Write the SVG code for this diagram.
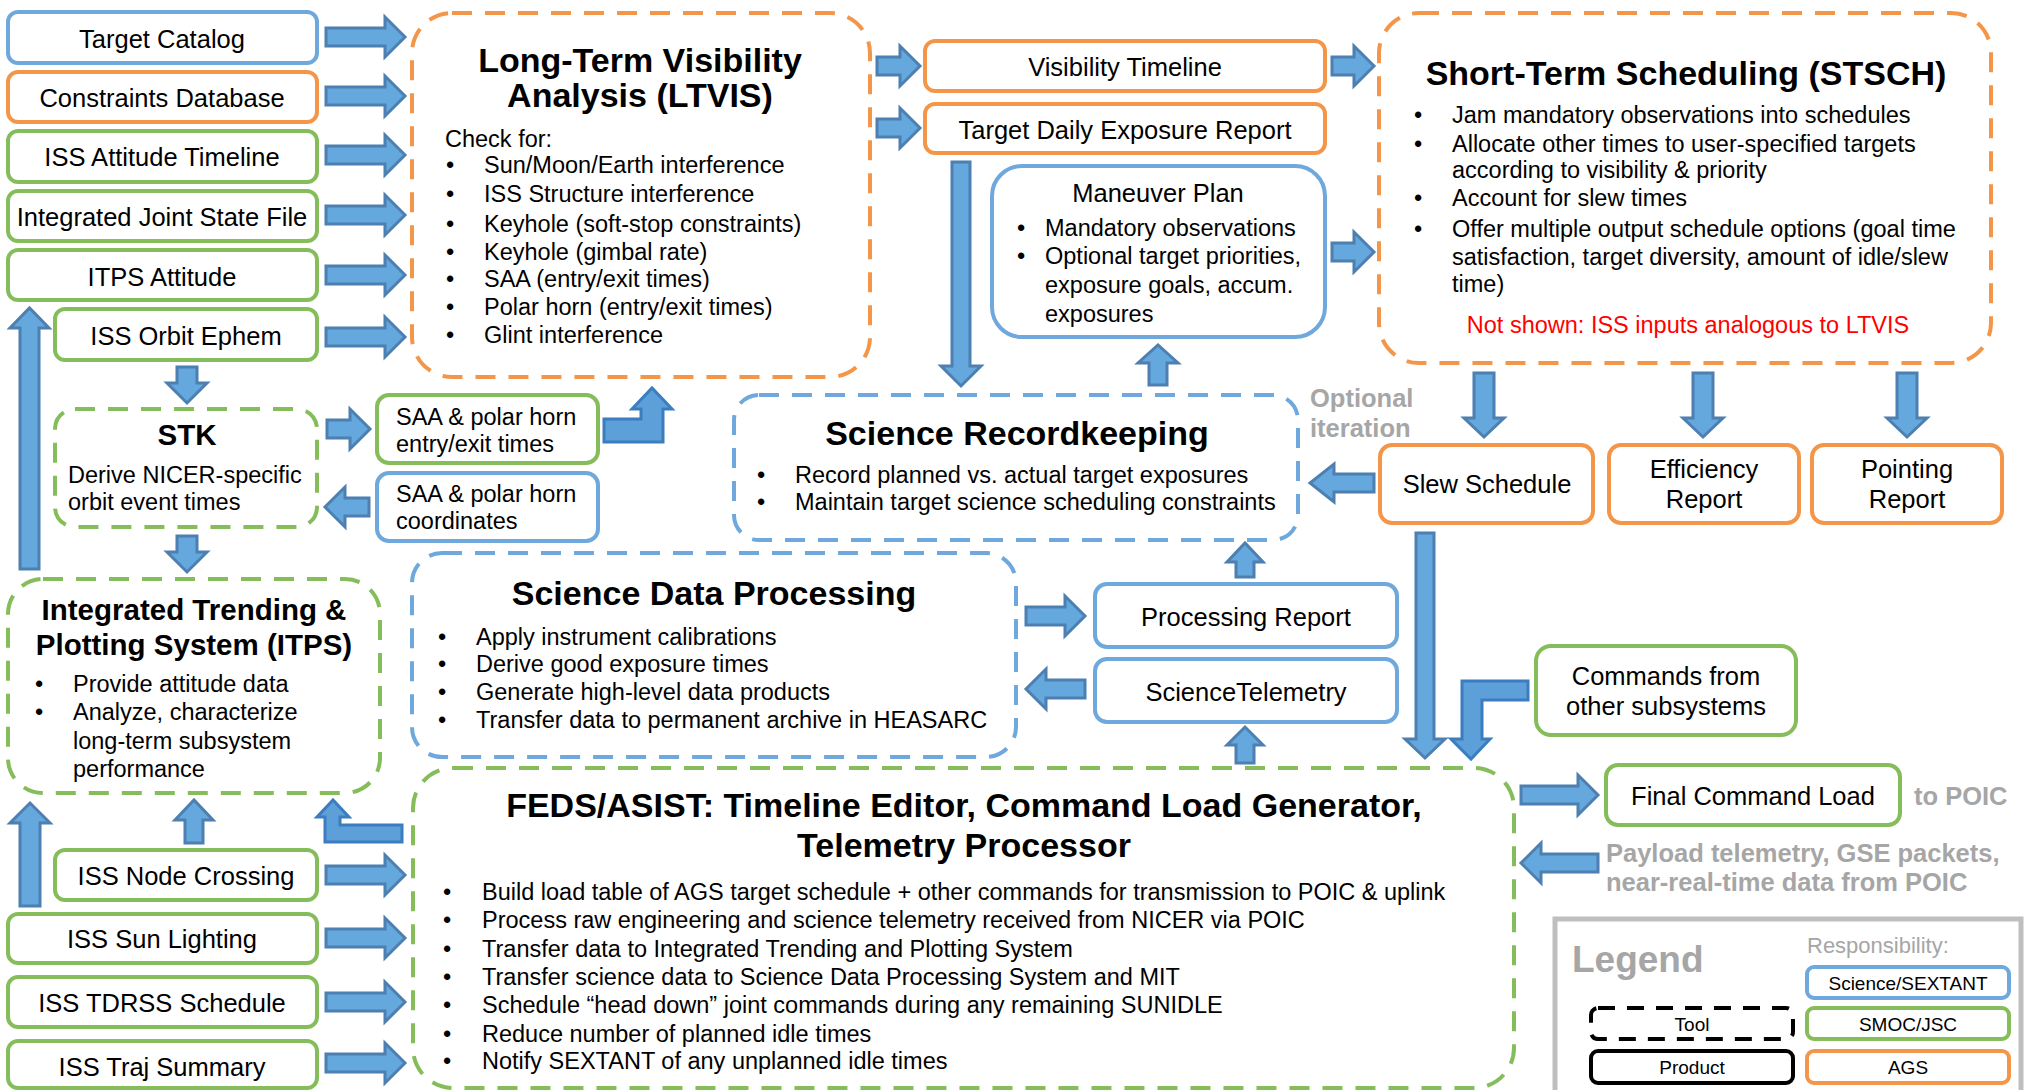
<svg xmlns="http://www.w3.org/2000/svg" width="2028" height="1090" viewBox="0 0 2028 1090">
<style>
text{font-family:"Liberation Sans",Arial,Helvetica,sans-serif;fill:#000}
.lbl{font-size:25.5px;text-anchor:middle}
.s23{font-size:23.5px}
.ttl{font-size:34px;font-weight:bold;text-anchor:middle}
.ttl29{font-size:29.5px;font-weight:bold;text-anchor:middle}
.gray{fill:#a6a6a6;font-weight:bold;font-size:25.5px}
.red{fill:#ff0000;font-size:23.5px;text-anchor:middle}
.lg{font-size:19px;text-anchor:middle}
.pb{fill:#fff;stroke:#6ea8dc;stroke-width:4}
.po{fill:#fff;stroke:#f4964a;stroke-width:4}
.pg{fill:#fff;stroke:#85bd5b;stroke-width:4}
.tb{fill:none;stroke:#6ea8dc;stroke-width:4;stroke-dasharray:20 13}
.to{fill:none;stroke:#f4964a;stroke-width:4;stroke-dasharray:20 13}
.tg{fill:none;stroke:#85bd5b;stroke-width:4;stroke-dasharray:20 13}
.arr{fill:#65a8de;stroke:#4d7fb0;stroke-width:3}
.elb{fill:#5d9fd8;stroke:#3c7dc0;stroke-width:3}
</style>

<!-- Input products (left column) -->
<g id="target-catalog"><rect x="8" y="12" width="309" height="51" rx="10" class="pb"/><text x="162" y="48" class="lbl">Target Catalog</text></g>
<g id="constraints-db"><rect x="8" y="72" width="309" height="50" rx="10" class="po"/><text x="162" y="107" class="lbl">Constraints Database</text></g>
<g id="iss-attitude-timeline"><rect x="8" y="131" width="309" height="51" rx="10" class="pg"/><text x="162" y="166" class="lbl">ISS Attitude Timeline</text></g>
<g id="joint-state-file"><rect x="8" y="191" width="309" height="50" rx="10" class="pg"/><text x="162" y="226" class="lbl">Integrated Joint State File</text></g>
<g id="itps-attitude"><rect x="8" y="250" width="309" height="50" rx="10" class="pg"/><text x="162" y="286" class="lbl">ITPS Attitude</text></g>
<g id="iss-orbit-ephem"><rect x="55" y="309" width="262" height="51" rx="10" class="pg"/><text x="186" y="345" class="lbl">ISS Orbit Ephem</text></g>

<!-- STK -->
<g id="stk"><rect x="55" y="409" width="262" height="118" rx="20" class="tg"/>
<text x="187" y="445" class="ttl29">STK</text>
<text x="68" y="483" class="s23">Derive NICER-specific</text>
<text x="68" y="510" class="s23">orbit event times</text></g>

<!-- SAA boxes -->
<g id="saa-times"><rect x="377" y="395" width="221" height="68" rx="12" class="pg"/>
<text x="396" y="425" class="s23">SAA &amp; polar horn</text><text x="396" y="452" class="s23">entry/exit times</text></g>
<g id="saa-coords"><rect x="377" y="473" width="221" height="68" rx="12" class="pb"/>
<text x="396" y="502" class="s23">SAA &amp; polar horn</text><text x="396" y="529" class="s23">coordinates</text></g>

<!-- ITPS -->
<g id="itps"><rect x="8" y="579" width="372" height="214" rx="35" class="tg"/>
<text x="194" y="620" class="ttl29">Integrated Trending &amp;</text>
<text x="194" y="655" class="ttl29">Plotting System (ITPS)</text>
<text x="35" y="692" class="s23">•</text><text x="73" y="692" class="s23">Provide attitude data</text>
<text x="35" y="720" class="s23">•</text><text x="73" y="720" class="s23">Analyze, characterize</text>
<text x="73" y="749" class="s23">long-term subsystem</text>
<text x="73" y="777" class="s23">performance</text></g>

<!-- Bottom-left inputs -->
<g id="iss-node-crossing"><rect x="55" y="850" width="262" height="50" rx="10" class="pg"/><text x="186" y="885" class="lbl">ISS Node Crossing</text></g>
<g id="iss-sun-lighting"><rect x="8" y="914" width="309" height="49" rx="10" class="pg"/><text x="162" y="948" class="lbl">ISS Sun Lighting</text></g>
<g id="iss-tdrss"><rect x="8" y="977" width="309" height="50" rx="10" class="pg"/><text x="162" y="1012" class="lbl">ISS TDRSS Schedule</text></g>
<g id="iss-traj"><rect x="8" y="1041" width="309" height="47" rx="10" class="pg"/><text x="162" y="1076" class="lbl">ISS Traj Summary</text></g>

<!-- LTVIS -->
<g id="ltvis"><rect x="412" y="13" width="458" height="364" rx="40" class="to"/>
<text x="640" y="72" class="ttl">Long-Term Visibility</text>
<text x="640" y="107" class="ttl">Analysis (LTVIS)</text>
<text x="445" y="147" class="s23">Check for:</text>
<text x="446" y="173" class="s23">•</text><text x="484" y="173" class="s23">Sun/Moon/Earth interference</text>
<text x="446" y="202" class="s23">•</text><text x="484" y="202" class="s23">ISS Structure interference</text>
<text x="446" y="232" class="s23">•</text><text x="484" y="232" class="s23">Keyhole (soft-stop constraints)</text>
<text x="446" y="260" class="s23">•</text><text x="484" y="260" class="s23">Keyhole (gimbal rate)</text>
<text x="446" y="287" class="s23">•</text><text x="484" y="287" class="s23">SAA (entry/exit times)</text>
<text x="446" y="315" class="s23">•</text><text x="484" y="315" class="s23">Polar horn (entry/exit times)</text>
<text x="446" y="343" class="s23">•</text><text x="484" y="343" class="s23">Glint interference</text></g>

<!-- LTVIS outputs -->
<g id="visibility-timeline"><rect x="925" y="41" width="400" height="50" rx="10" class="po"/><text x="1125" y="76" class="lbl">Visibility Timeline</text></g>
<g id="target-daily-exposure"><rect x="925" y="104" width="400" height="49" rx="10" class="po"/><text x="1125" y="139" class="lbl">Target Daily Exposure Report</text></g>

<!-- Maneuver Plan -->
<g id="maneuver-plan"><rect x="992" y="166" width="333" height="171" rx="30" class="pb"/>
<text x="1158" y="202" class="lbl">Maneuver Plan</text>
<text x="1017" y="236" class="s23">•</text><text x="1045" y="236" class="s23">Mandatory observations</text>
<text x="1017" y="264" class="s23">•</text><text x="1045" y="264" class="s23">Optional target priorities,</text>
<text x="1045" y="293" class="s23">exposure goals, accum.</text>
<text x="1045" y="322" class="s23">exposures</text></g>

<!-- STSCH -->
<g id="stsch"><rect x="1379" y="13" width="612" height="350" rx="40" class="to"/>
<text x="1686" y="85" class="ttl">Short-Term Scheduling (STSCH)</text>
<text x="1414" y="123" class="s23">•</text><text x="1452" y="123" class="s23">Jam mandatory observations into schedules</text>
<text x="1414" y="152" class="s23">•</text><text x="1452" y="152" class="s23">Allocate other times to user-specified targets</text>
<text x="1452" y="178" class="s23">according to visibility &amp; priority</text>
<text x="1414" y="206" class="s23">•</text><text x="1452" y="206" class="s23">Account for slew times</text>
<text x="1414" y="237" class="s23">•</text><text x="1452" y="237" class="s23">Offer multiple output schedule options (goal time</text>
<text x="1452" y="265" class="s23">satisfaction, target diversity, amount of idle/slew</text>
<text x="1452" y="292" class="s23">time)</text>
<text x="1688" y="333" class="red">Not shown: ISS inputs analogous to LTVIS</text></g>

<!-- STSCH outputs -->
<g id="slew-schedule"><rect x="1380" y="445" width="213" height="78" rx="12" class="po"/><text x="1487" y="493" class="lbl">Slew Schedule</text></g>
<g id="efficiency-report"><rect x="1609" y="445" width="190" height="78" rx="12" class="po"/><text x="1704" y="478" class="lbl">Efficiency</text><text x="1704" y="508" class="lbl">Report</text></g>
<g id="pointing-report"><rect x="1812" y="445" width="190" height="78" rx="12" class="po"/><text x="1907" y="478" class="lbl">Pointing</text><text x="1907" y="508" class="lbl">Report</text></g>

<g id="optional-iteration"><text x="1310" y="407" class="gray">Optional</text><text x="1310" y="437" class="gray">iteration</text></g>

<!-- Science Recordkeeping -->
<g id="science-recordkeeping"><rect x="734" y="395" width="564" height="145" rx="25" class="tb"/>
<text x="1017" y="445" class="ttl">Science Recordkeeping</text>
<text x="757" y="483" class="s23">•</text><text x="795" y="483" class="s23">Record planned vs. actual target exposures</text>
<text x="757" y="510" class="s23">•</text><text x="795" y="510" class="s23">Maintain target science scheduling constraints</text></g>

<!-- Science Data Processing -->
<g id="science-data-processing"><rect x="412" y="553" width="604" height="204" rx="30" class="tb"/>
<text x="714" y="605" class="ttl">Science Data Processing</text>
<text x="438" y="645" class="s23">•</text><text x="476" y="645" class="s23">Apply instrument calibrations</text>
<text x="438" y="672" class="s23">•</text><text x="476" y="672" class="s23">Derive good exposure times</text>
<text x="438" y="700" class="s23">•</text><text x="476" y="700" class="s23">Generate high-level data products</text>
<text x="438" y="728" class="s23">•</text><text x="476" y="728" class="s23">Transfer data to permanent archive in HEASARC</text></g>

<g id="processing-report"><rect x="1095" y="584" width="302" height="63" rx="12" class="pb"/><text x="1246" y="626" class="lbl">Processing Report</text></g>
<g id="science-telemetry"><rect x="1095" y="659" width="302" height="63" rx="12" class="pb"/><text x="1246" y="701" class="lbl">ScienceTelemetry</text></g>

<g id="commands-other"><rect x="1536" y="646" width="260" height="89" rx="15" class="pg"/><text x="1666" y="685" class="lbl">Commands from</text><text x="1666" y="715" class="lbl">other subsystems</text></g>

<!-- FEDS/ASIST -->
<g id="feds-asist"><rect x="413" y="768" width="1101" height="320" rx="40" class="tg"/>
<text x="964" y="817" class="ttl">FEDS/ASIST: Timeline Editor, Command Load Generator,</text>
<text x="964" y="857" class="ttl">Telemetry Processor</text>
<text x="443" y="900" class="s23">•</text><text x="482" y="900" class="s23">Build load table of AGS target schedule + other commands for transmission to POIC &amp; uplink</text>
<text x="443" y="928" class="s23">•</text><text x="482" y="928" class="s23">Process raw engineering and science telemetry received from NICER via POIC</text>
<text x="443" y="957" class="s23">•</text><text x="482" y="957" class="s23">Transfer data to Integrated Trending and Plotting System</text>
<text x="443" y="985" class="s23">•</text><text x="482" y="985" class="s23">Transfer science data to Science Data Processing System and MIT</text>
<text x="443" y="1013" class="s23">•</text><text x="482" y="1013" class="s23">Schedule “head down” joint commands during any remaining SUNIDLE</text>
<text x="443" y="1042" class="s23">•</text><text x="482" y="1042" class="s23">Reduce number of planned idle times</text>
<text x="443" y="1069" class="s23">•</text><text x="482" y="1069" class="s23">Notify SEXTANT of any unplanned idle times</text></g>

<g id="final-command-load"><rect x="1606" y="765" width="294" height="60" rx="12" class="pg"/><text x="1753" y="805" class="lbl">Final Command Load</text></g>
<g id="to-poic"><text x="1914" y="805" class="gray">to POIC</text></g>
<g id="payload-telemetry"><text x="1606" y="862" class="gray">Payload telemetry, GSE packets,</text><text x="1606" y="891" class="gray">near-real-time data from POIC</text></g>

<!-- Legend -->
<g id="legend">
<rect x="1555" y="919" width="466" height="200" fill="#fff" stroke="#bfbfbf" stroke-width="5"/>
<text x="1572" y="972" style="font-size:37px;font-weight:bold;fill:#a6a6a6">Legend</text>
<text x="1807" y="953" style="font-size:22px;fill:#a6a6a6">Responsibility:</text>
<rect x="1807" y="967" width="202" height="31" rx="7" class="pb"/><text x="1908" y="990" class="lg">Science/SEXTANT</text>
<rect x="1807" y="1008" width="202" height="31" rx="7" class="pg"/><text x="1908" y="1031" class="lg">SMOC/JSC</text>
<rect x="1807" y="1051" width="202" height="32" rx="7" class="po"/><text x="1908" y="1074" class="lg">AGS</text>
<rect x="1591" y="1008" width="202" height="31" rx="7" fill="none" stroke="#000" stroke-width="4" stroke-dasharray="17 12"/><text x="1692" y="1031" class="lg">Tool</text>
<rect x="1591" y="1051" width="202" height="32" rx="7" fill="#fff" stroke="#000" stroke-width="4"/><text x="1692" y="1074" class="lg">Product</text>
</g>

<!-- Connectors -->
<g id="connectors">
<path class="arr" d="M326,28 L385,28 L385,17 L405,37 L385,57 L385,46 L326,46 Z"/>
<path class="arr" d="M326,87 L385,87 L385,76 L405,96 L385,116 L385,105 L326,105 Z"/>
<path class="arr" d="M326,146 L385,146 L385,135 L405,155 L385,175 L385,164 L326,164 Z"/>
<path class="arr" d="M326,206 L385,206 L385,195 L405,215 L385,235 L385,224 L326,224 Z"/>
<path class="arr" d="M326,266 L385,266 L385,255 L405,275 L385,295 L385,284 L326,284 Z"/>
<path class="arr" d="M326,328 L385,328 L385,317 L405,337 L385,357 L385,346 L326,346 Z"/>
<path class="arr" d="M326,866 L385,866 L385,855 L405,875 L385,895 L385,884 L326,884 Z"/>
<path class="arr" d="M326,929 L385,929 L385,918 L405,938 L385,958 L385,947 L326,947 Z"/>
<path class="arr" d="M326,993 L385,993 L385,982 L405,1002 L385,1022 L385,1011 L326,1011 Z"/>
<path class="arr" d="M326,1054 L385,1054 L385,1043 L405,1063 L385,1083 L385,1072 L326,1072 Z"/>
<path class="arr" d="M877,57 L900,57 L900,46 L920,66 L900,86 L900,75 L877,75 Z"/>
<path class="arr" d="M877,119 L900,119 L900,108 L920,128 L900,148 L900,137 L877,137 Z"/>
<path class="arr" d="M1332,57 L1354,57 L1354,46 L1374,66 L1354,86 L1354,75 L1332,75 Z"/>
<path class="arr" d="M1332,243 L1354,243 L1354,232 L1374,252 L1354,272 L1354,261 L1332,261 Z"/>
<path class="arr" d="M952,162 L970,162 L970,366 L981,366 L961,386 L941,366 L952,366 Z"/>
<path class="arr" d="M1474,373 L1494,373 L1494,418 L1504,418 L1484,437 L1464,418 L1474,418 Z"/>
<path class="arr" d="M1693,373 L1713,373 L1713,418 L1723,418 L1703,437 L1683,418 L1693,418 Z"/>
<path class="arr" d="M1897,373 L1917,373 L1917,418 L1927,418 L1907,437 L1887,418 L1897,418 Z"/>
<path class="arr" d="M177,367 L197,367 L197,383 L207,383 L187,403 L167,383 L177,383 Z"/>
<path class="arr" d="M177,536 L197,536 L197,552 L207,552 L187,572 L167,552 L177,552 Z"/>
<path class="arr" d="M1416,533 L1434,533 L1434,739 L1445,739 L1425,758 L1405,739 L1416,739 Z"/>
<path class="arr" d="M1149,385 L1149,363 L1138,363 L1158,345 L1178,363 L1167,363 L1167,385 Z"/>
<path class="arr" d="M1236,577 L1236,562 L1227,562 L1245,543 L1263,562 L1254,562 L1254,577 Z"/>
<path class="arr" d="M1236,763 L1236,745 L1227,745 L1245,727 L1263,745 L1254,745 L1254,763 Z"/>
<path class="arr" d="M20,569 L20,328 L10,328 L29.5,308 L49,328 L39,328 L39,569 Z"/>
<path class="arr" d="M20,906 L20,823 L10,823 L30,803 L50,823 L40,823 L40,906 Z"/>
<path class="arr" d="M185,843 L185,820 L175,820 L194,800 L213,820 L203,820 L203,843 Z"/>
<path class="arr" d="M327,420 L350,420 L350,409 L370,429 L350,449 L350,438 L327,438 Z"/>
<path class="arr" d="M369,498 L345,498 L345,487 L325,507 L345,527 L345,516 L369,516 Z"/>
<path class="arr" d="M1374,474 L1334,474 L1334,464 L1310,483 L1334,502 L1334,492 L1374,492 Z"/>
<path class="arr" d="M1026,607 L1065,607 L1065,596 L1085,616 L1065,636 L1065,625 L1026,625 Z"/>
<path class="arr" d="M1085,680 L1046,680 L1046,669 L1026,689 L1046,709 L1046,698 L1085,698 Z"/>
<path class="arr" d="M1521,786 L1578,786 L1578,775 L1598,795 L1578,815 L1578,804 L1521,804 Z"/>
<path class="arr" d="M1598,854 L1541,854 L1541,843 L1521,863 L1541,883 L1541,872 L1598,872 Z"/>
<path class="elb" d="M604,419 L641,419 L641,409 L632,409 L652,388 L672,409 L663,409 L663,442 L604,442 Z"/>
<path class="elb" d="M402,825 L340,825 L340,817 L349,817 L333,800 L317,817 L325,817 L325,842 L402,842 Z"/>
<path class="elb" d="M1528,681 L1528,700 L1482,700 L1482,739 L1490,739 L1471,759 L1451,739 L1462,739 L1462,681 Z"/>
</g>
</svg>
